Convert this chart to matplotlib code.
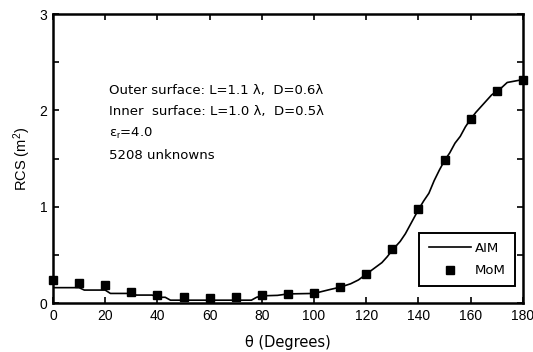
import matplotlib
matplotlib.use('Agg')
import matplotlib.pyplot as plt
from matplotlib.ticker import MultipleLocator

plt.rcParams['font.family'] = ['Liberation Sans', 'DejaVu Sans']
plt.rcParams['mathtext.fontset'] = 'custom'
plt.rcParams['mathtext.rm'] = 'Liberation Sans'
plt.rcParams['mathtext.it'] = 'Liberation Sans'

# AIM curve
theta_aim = [0, 10, 12, 20, 22, 30, 32, 38, 40, 43, 45, 76, 78, 80, 86, 90,
             100, 103, 106, 110, 114, 117, 120, 123, 126, 128, 130, 133, 135,
             137, 140, 142, 144, 146, 148, 150, 152, 154, 156, 158, 160, 162,
             164, 166, 168, 170, 172, 174, 176, 178, 180]
rcs_aim = [0.16, 0.16, 0.135, 0.135, 0.10, 0.10, 0.083, 0.083, 0.06, 0.06,
           0.03, 0.03, 0.06, 0.075, 0.08, 0.095, 0.10, 0.12, 0.14, 0.165,
           0.20, 0.24, 0.30, 0.36, 0.42, 0.48, 0.55, 0.64, 0.72, 0.82, 0.97,
           1.06, 1.14, 1.27, 1.38, 1.48, 1.56, 1.66, 1.73, 1.83, 1.91, 1.98,
           2.04, 2.10, 2.16, 2.20, 2.24, 2.29, 2.30, 2.31, 2.32]

# MoM samples
theta_mom = [0, 10, 20, 30, 40, 50, 60, 70, 80, 90, 100, 110, 120, 130, 140,
             150, 160, 170, 180]
rcs_mom = [0.24, 0.21, 0.19, 0.12, 0.08, 0.06, 0.05, 0.06, 0.08, 0.09, 0.10,
           0.17, 0.30, 0.56, 0.98, 1.49, 1.91, 2.20, 2.32]

xticks = list(range(0, 181, 20))
yticks = [0, 1, 2, 3]

info_lines = [u'Outer surface: L=1.1 \u03bb,  D=0.6\u03bb',
              u'Inner  surface: L=1.0 \u03bb,  D=0.5\u03bb',
              u'\u03b5$_r$=4.0',
              u'5208 unknowns']

fig = plt.figure(figsize=(5.33, 3.52), dpi=100)
ax = fig.add_axes([0.0994, 0.139, 0.8816, 0.821])

ax.plot(theta_aim, rcs_aim, color='black', lw=1.2, label='AIM')
ax.plot(theta_mom, rcs_mom, 's', color='black', ms=6, label='MoM',
        clip_on=False, zorder=5)

ax.set_xlim(0, 180)
ax.set_ylim(0, 3)
ax.set_xticks(xticks)
ax.set_yticks(yticks)
ax.yaxis.set_minor_locator(MultipleLocator(0.5))
ax.tick_params(which='both', direction='in', top=True, right=True,
               length=4, width=1.2, labelsize=10, pad=4)
for sp in ax.spines.values():
    sp.set_linewidth(1.8)

ax.set_xlabel(u'\u03b8 (Degrees)', fontsize=10.5, labelpad=9,
              family=['DejaVu Sans'])
ax.set_ylabel(u'RCS (m$^2$)', fontsize=10.5, labelpad=5)

for i, line in enumerate(info_lines):
    ax.text(0.12, 0.737 - i * 0.075, line, transform=ax.transAxes,
            fontsize=9.5, va='center', ha='left', family=['DejaVu Sans'])

leg = ax.legend(loc='lower right', bbox_to_anchor=(0.997, 0.035),
                fancybox=False, edgecolor='black', framealpha=1,
                handlelength=3.2, handletextpad=0.3,
                borderpad=0.7, labelspacing=0.7,
                prop={'family': 'DejaVu Sans', 'size': 9.5})
leg.get_frame().set_linewidth(1.4)

fig.savefig('out.png', dpi=100)
